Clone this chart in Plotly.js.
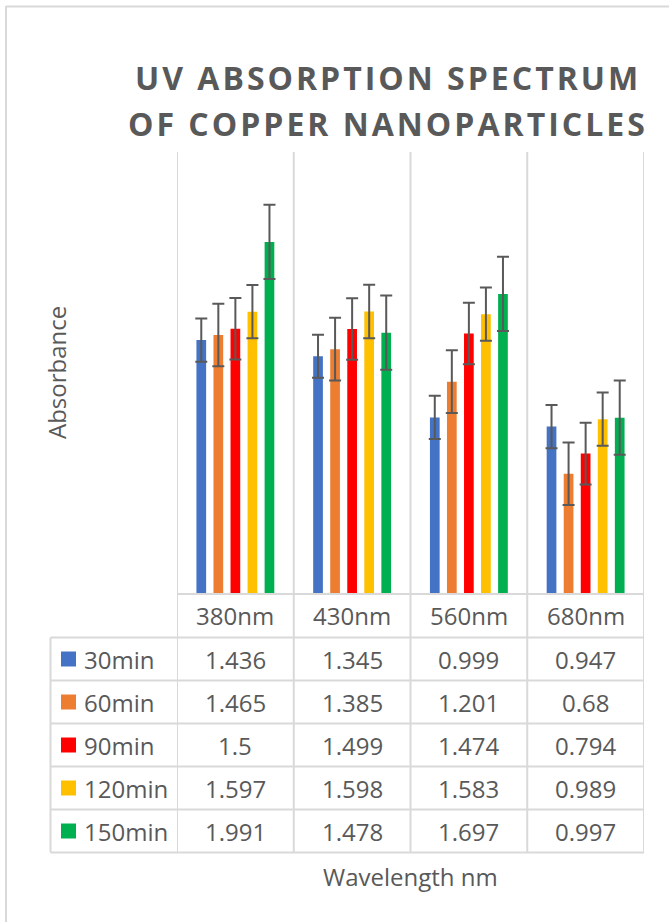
<!DOCTYPE html>
<html>
<head>
<meta charset="utf-8">
<script src="https://cdn.plot.ly/plotly-3.0.1.min.js"></script>
<style>
  html, body { margin: 0; padding: 0; background: #ffffff; }
  #chart { width: 669px; height: 922px; }
  text[data-unformatted="UV ABSORPTION SPECTRUM"],
  text[data-unformatted="OF COPPER NANOPARTICLES"] { letter-spacing: 3px; }
</style>
</head>
<body>
<div id="chart"></div>
<script>
// ---- data ----
const categories = ['380nm', '430nm', '560nm', '680nm'];
const seriesNames = ['30min', '60min', '90min', '120min', '150min'];
const v30min  = [1.436, 1.345, 0.999, 0.947];
const v60min  = [1.465, 1.385, 1.201, 0.68];
const v90min  = [1.5,   1.499, 1.474, 0.794];
const v120min = [1.597, 1.598, 1.583, 0.989];
const v150min = [1.991, 1.478, 1.697, 0.997];
// error bar half-lengths (one per series)
const errorSizes = [0.122, 0.177, 0.174, 0.151, 0.210];
const seriesColors = ['#4472C4', '#ED7D31', '#FF0000', '#FFC000', '#00B050'];
const titleLines = ['UV ABSORPTION SPECTRUM', 'OF COPPER NANOPARTICLES'];
const yTitle = 'Absorbance';
const xTitle = 'Wavelength nm';

const seriesValues = [v30min, v60min, v90min, v120min, v150min];

// ---- geometry helpers (pixels -> paper) ----
const PL = 177, PR = 644, PT = 152, PB = 594;
const PW = PR - PL, PH = PB - PT;
const px = x => (x - PL) / PW;
const py = y => (PB - y) / PH;

const textColor = '#595959';
const lineColor = '#D9D9D9';
const font = 'Open Sans, Noto Sans, sans-serif';
const tableSize = 24;

const traces = seriesNames.map((name, i) => ({
  type: 'bar',
  name: name,
  x: categories,
  y: seriesValues[i],
  marker: { color: seriesColors[i] },
  error_y: { type: 'constant', value: errorSizes[i], color: '#595959', thickness: 2, width: 6 },
  hoverinfo: 'none'
}));

const shapes = [];
const annotations = [];

// outer chart border (left and top visible)
shapes.push({ type: 'line', xref: 'paper', yref: 'paper', x0: px(6), x1: px(6), y0: py(6), y1: py(930), line: { color: lineColor, width: 2 } });
shapes.push({ type: 'line', xref: 'paper', yref: 'paper', x0: px(6), x1: px(680), y0: py(6.5), y1: py(6.5), line: { color: lineColor, width: 2 } });

const rowTop = 637.5, rowH = 43, tableLeft = 50.5, tableBottom = rowTop + rowH * seriesNames.length;

// vertical category / table column lines
for (let k = 0; k <= categories.length; k++) {
  shapes.push({ type: 'line', xref: 'x', yref: 'paper', x0: k - 0.5, x1: k - 0.5, y0: py(PT), y1: py(tableBottom), line: { color: lineColor, width: 2 } });
}
// axis line / header top
shapes.push({ type: 'line', xref: 'paper', yref: 'paper', x0: px(PL), x1: px(PR), y0: py(PB), y1: py(PB), line: { color: lineColor, width: 2 } });
// table horizontal lines
for (let r = 0; r <= seriesNames.length; r++) {
  const yy = rowTop + r * rowH;
  shapes.push({ type: 'line', xref: 'paper', yref: 'paper', x0: px(tableLeft), x1: px(PR), y0: py(yy), y1: py(yy), line: { color: lineColor, width: 2 } });
}
// table left border
shapes.push({ type: 'line', xref: 'paper', yref: 'paper', x0: px(tableLeft), x1: px(tableLeft), y0: py(rowTop), y1: py(tableBottom), line: { color: lineColor, width: 2 } });

// header labels
categories.forEach((c, k) => {
  annotations.push({ xref: 'x', yref: 'paper', x: c, y: py((PB + rowTop) / 2), text: c, showarrow: false,
    xanchor: 'center', yanchor: 'middle', font: { family: font, size: tableSize, color: textColor } });
});

// rows
seriesNames.forEach((name, r) => {
  const cy = rowTop + rowH * r + rowH / 2;
  shapes.push({ type: 'rect', xref: 'paper', yref: 'paper', x0: px(61), x1: px(76), y0: py(cy - 7.5), y1: py(cy + 7.5),
    fillcolor: seriesColors[r], line: { width: 0 } });
  annotations.push({ xref: 'paper', yref: 'paper', x: px(82), y: py(cy), text: name, showarrow: false,
    xanchor: 'left', yanchor: 'middle', font: { family: font, size: tableSize, color: textColor } });
  seriesValues[r].forEach((v, k) => {
    annotations.push({ xref: 'x', yref: 'paper', x: categories[k], y: py(cy), text: String(v), showarrow: false,
      xanchor: 'center', yanchor: 'middle', font: { family: font, size: tableSize, color: textColor } });
  });
});

// titles
annotations.unshift(
  { xref: 'paper', yref: 'paper', x: px(388), y: py(78), text: titleLines[0], showarrow: false,
    xanchor: 'center', yanchor: 'middle', font: { family: font, size: 32, color: textColor, weight: 700 } },
  { xref: 'paper', yref: 'paper', x: px(388), y: py(123), text: titleLines[1], showarrow: false,
    xanchor: 'center', yanchor: 'middle', font: { family: font, size: 32, color: textColor, weight: 700 } }
);
annotations.push({ xref: 'paper', yref: 'paper', x: px(56), y: py(373), text: yTitle, showarrow: false, textangle: -90,
  xanchor: 'center', yanchor: 'middle', font: { family: font, size: tableSize, color: textColor } });
annotations.push({ xref: 'paper', yref: 'paper', x: px(410), y: py(876), text: xTitle, showarrow: false,
  xanchor: 'center', yanchor: 'middle', font: { family: font, size: tableSize, color: textColor } });

const layout = {
  width: 669, height: 922,
  margin: { l: PL, r: 669 - PR, t: PT, b: 922 - PB, pad: 0 },
  paper_bgcolor: '#ffffff', plot_bgcolor: '#ffffff',
  showlegend: false,
  barmode: 'group', bargap: 0.27, bargroupgap: 0.43,
  xaxis: { type: 'category', range: [-0.5, 3.5], showticklabels: false, showgrid: false, zeroline: false, showline: false, ticks: '' },
  yaxis: { range: [0, 2.5], showticklabels: false, showgrid: false, zeroline: false, showline: false, ticks: '' },
  shapes: shapes,
  annotations: annotations
};

Plotly.newPlot('chart', traces, layout, { staticPlot: true, displayModeBar: false });
</script>
</body>
</html>
